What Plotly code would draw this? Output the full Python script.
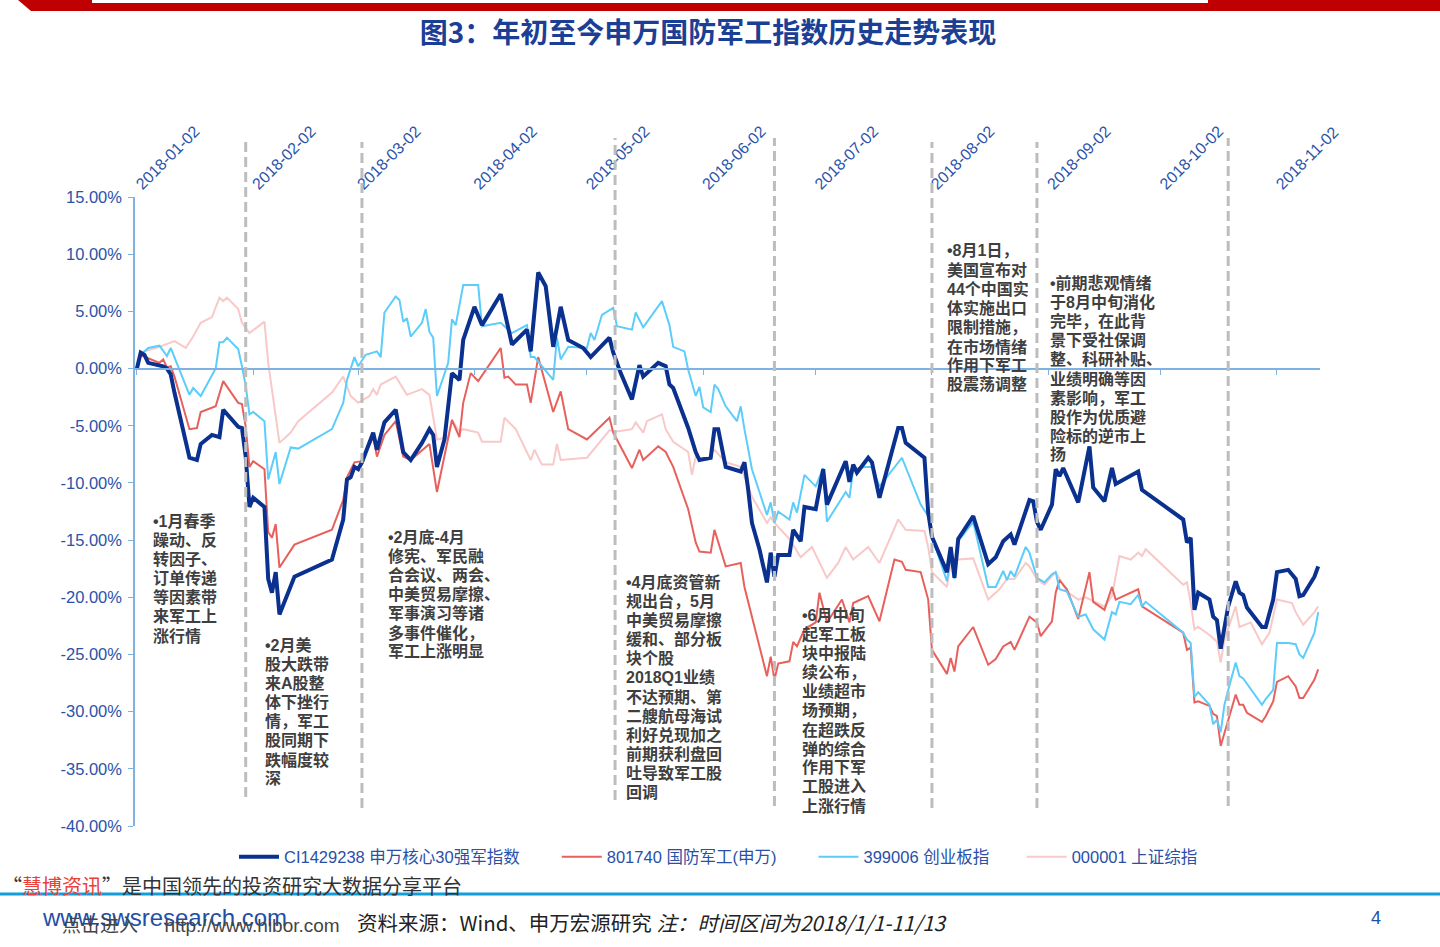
import plotly.graph_objects as go

# ---------------- data (percent change since 2018-01-02) ----------------
series_names = ["CI1429238 申万核心30强军指数", "801740 国防军工(申万)", "399006 创业板指", "000001 上证综指"]
month_ticks = ["2018-01-02", "2018-02-02", "2018-03-02", "2018-04-02", "2018-05-02", "2018-06-02",
               "2018-07-02", "2018-08-02", "2018-09-02", "2018-10-02", "2018-11-02"]
y_ticks = [15, 10, 5, 0, -5, -10, -15, -20, -25, -30, -35, -40]
y_tick_labels = ["15.00%", "10.00%", "5.00%", "0.00%", "-5.00%", "-10.00%", "-15.00%", "-20.00%",
                 "-25.00%", "-30.00%", "-35.00%", "-40.00%"]
event_dates = ["2018-01-01", "2018-01-31", "2018-03-03", "2018-05-09 12:00", "2018-06-21",
               "2018-08-02", "2018-08-30", "2018-10-20"]

ci_dates = ["2018-01-02","2018-01-03","2018-01-04","2018-01-05","2018-01-09","2018-01-10","2018-01-11","2018-01-12",
    "2018-01-16","2018-01-18","2018-01-19","2018-01-22","2018-01-24","2018-01-25","2018-01-29","2018-01-30","2018-01-31",
    "2018-02-01","2018-02-02","2018-02-05","2018-02-06","2018-02-07","2018-02-08","2018-02-09","2018-02-13","2018-02-23",
    "2018-02-26","2018-02-27","2018-02-28","2018-03-01","2018-03-02","2018-03-03","2018-03-06","2018-03-07","2018-03-09",
    "2018-03-12","2018-03-14","2018-03-16","2018-03-19","2018-03-21","2018-03-22","2018-03-23","2018-03-25","2018-03-27",
    "2018-03-29","2018-03-30","2018-04-02","2018-04-04","2018-04-09","2018-04-11","2018-04-12","2018-04-16","2018-04-17",
    "2018-04-19","2018-04-21","2018-04-23","2018-04-25","2018-04-27","2018-05-01","2018-05-03","2018-05-08","2018-05-09",
    "2018-05-11","2018-05-14","2018-05-16","2018-05-17","2018-05-21","2018-05-23","2018-05-24","2018-05-25","2018-05-29",
    "2018-05-31","2018-06-01","2018-06-04","2018-06-05","2018-06-06","2018-06-08","2018-06-12","2018-06-13","2018-06-14",
    "2018-06-15","2018-06-17","2018-06-19","2018-06-20","2018-06-21","2018-06-22","2018-06-25","2018-06-26","2018-06-28",
    "2018-06-29","2018-07-02","2018-07-04","2018-07-05","2018-07-10","2018-07-11","2018-07-12","2018-07-13","2018-07-16",
    "2018-07-17","2018-07-19","2018-07-24","2018-07-25","2018-07-26","2018-07-31","2018-08-01","2018-08-02","2018-08-06",
    "2018-08-07","2018-08-08","2018-08-09","2018-08-13","2018-08-17","2018-08-19","2018-08-21","2018-08-23","2018-08-24",
    "2018-08-28","2018-08-29","2018-08-30","2018-08-31","2018-09-03","2018-09-04","2018-09-05","2018-09-06","2018-09-10",
    "2018-09-13","2018-09-14","2018-09-17","2018-09-19","2018-09-20","2018-09-26","2018-09-27","2018-10-08","2018-10-09",
    "2018-10-10","2018-10-11","2018-10-12","2018-10-15","2018-10-16","2018-10-17","2018-10-18","2018-10-20","2018-10-22",
    "2018-10-23","2018-10-24","2018-10-25","2018-10-29","2018-10-30","2018-11-01","2018-11-02","2018-11-05","2018-11-07",
    "2018-11-08","2018-11-09","2018-11-12","2018-11-13"]
ci_values = [0.0, 1.4, 1.2, 0.5, 0.2, 0.0, -0.5, -2.1,
    -7.8, -8.0, -6.6, -5.8, -6.0, -3.6, -5.1, -5.2, -7.7,
    -12.1, -11.3, -12.1, -18.4, -19.6, -17.8, -21.5, -18.2, -16.7,
    -13.2, -9.7, -9.5, -8.6, -8.8, -8.2, -5.6, -7.1, -4.7,
    -3.6, -7.3, -8.0, -6.5, -5.3, -5.8, -8.6, -6.2, -0.4,
    -1.0, 2.5, 5.4, 3.8, 6.5, 3.6, 2.1, 3.4, 1.5,
    8.4, 7.2, 1.9, 5.4, 2.5, 1.8, 1.0, 2.7, 1.4,
    -0.4, -2.7, 0.3, -0.7, 0.5, 0.2, -1.4, -1.7, -5.2,
    -7.3, -8.0, -7.8, -5.3, -5.3, -8.6, -9.0, -8.2, -10.6,
    -13.5, -15.8, -18.7, -16.1, -18.2, -16.3, -16.3, -14.1, -15.1,
    -12.1, -12.3, -8.8, -11.9, -8.1, -9.9, -8.4, -9.1, -7.8,
    -8.2, -11.3, -5.2, -5.2, -6.5, -7.8, -12.6, -14.7, -17.8,
    -15.6, -18.3, -14.9, -12.9, -17.1, -16.5, -15.1, -14.5, -15.4,
    -11.5, -11.6, -13.4, -14.1, -11.9, -8.8, -9.4, -8.7, -11.7,
    -6.8, -10.4, -11.6, -8.7, -10.1, -9.0, -10.6, -13.2, -15.2,
    -14.8, -21.1, -19.6, -20.2, -21.7, -22.0, -24.5, -20.8, -18.6,
    -19.6, -19.8, -20.9, -22.6, -22.6, -20.2, -17.8, -17.6, -18.4,
    -19.9, -19.8, -18.2, -17.3]

sw_dates = ["2018-01-02","2018-01-03","2018-01-05","2018-01-08","2018-01-09","2018-01-10","2018-01-11","2018-01-12",
    "2018-01-16","2018-01-18","2018-01-19","2018-01-23","2018-01-25","2018-01-29","2018-01-30","2018-01-31","2018-02-01",
    "2018-02-02","2018-02-05","2018-02-06","2018-02-07","2018-02-08","2018-02-09","2018-02-13","2018-02-23","2018-02-26",
    "2018-02-27","2018-03-01","2018-03-03","2018-03-06","2018-03-07","2018-03-09","2018-03-12","2018-03-14","2018-03-16",
    "2018-03-21","2018-03-23","2018-03-27","2018-03-29","2018-03-30","2018-04-01","2018-04-03","2018-04-09","2018-04-10",
    "2018-04-11","2018-04-13","2018-04-16","2018-04-17","2018-04-19","2018-04-23","2018-04-25","2018-04-27","2018-05-02",
    "2018-05-08","2018-05-09","2018-05-14","2018-05-16","2018-05-17","2018-05-21","2018-05-23","2018-05-25","2018-05-29",
    "2018-05-31","2018-06-01","2018-06-04","2018-06-05","2018-06-08","2018-06-12","2018-06-13","2018-06-19","2018-06-20",
    "2018-06-21","2018-06-22","2018-06-25","2018-06-26","2018-06-27","2018-06-29","2018-07-02","2018-07-03","2018-07-05",
    "2018-07-09","2018-07-11","2018-07-12","2018-07-16","2018-07-19","2018-07-23","2018-07-25","2018-07-26","2018-07-30",
    "2018-08-01","2018-08-02","2018-08-06","2018-08-07","2018-08-08","2018-08-09","2018-08-13","2018-08-17","2018-08-19",
    "2018-08-21","2018-08-23","2018-08-24","2018-08-28","2018-08-30","2018-08-31","2018-09-03","2018-09-04","2018-09-05",
    "2018-09-07","2018-09-10","2018-09-13","2018-09-14","2018-09-17","2018-09-19","2018-09-20","2018-09-26","2018-09-27",
    "2018-10-08","2018-10-09","2018-10-10","2018-10-11","2018-10-12","2018-10-15","2018-10-16","2018-10-17","2018-10-18",
    "2018-10-20","2018-10-22","2018-10-23","2018-10-24","2018-10-25","2018-10-29","2018-10-30","2018-11-01","2018-11-02",
    "2018-11-05","2018-11-07","2018-11-08","2018-11-09","2018-11-12","2018-11-13"]
sw_values = [0.0, 1.2, 0.9, 0.5, 0.8, 0.1, 0.2, -0.7,
    -5.3, -5.2, -3.8, -3.3, -1.1, -3.0, -3.1, -5.1, -8.6,
    -8.1, -8.8, -14.3, -14.8, -13.6, -17.4, -15.4, -14.1, -11.5,
    -9.5, -8.2, -8.1, -6.0, -7.7, -5.8, -4.6, -7.7, -8.0,
    -6.6, -10.8, -4.5, -6.0, -3.0, -0.4, -1.1, 1.8, -0.8,
    -0.7, -1.4, -1.4, -3.0, 1.0, -3.8, -2.0, -5.3, -6.2,
    -4.3, -5.6, -8.7, -7.1, -8.0, -6.8, -7.3, -8.6, -12.3,
    -15.2, -16.0, -16.1, -14.1, -17.3, -17.0, -19.1, -26.9, -25.2,
    -27.2, -25.8, -25.6, -23.9, -24.3, -22.8, -22.2, -19.6, -22.2,
    -20.2, -22.2, -20.5, -19.9, -22.1, -16.7, -16.9, -17.6, -17.8,
    -20.2, -24.6, -26.7, -25.3, -26.5, -24.3, -22.6, -25.9, -25.4,
    -24.3, -23.9, -24.6, -21.7, -22.2, -23.4, -22.1, -19.6, -18.5,
    -19.3, -21.9, -17.8, -20.4, -21.1, -19.1, -20.2, -19.3, -20.8,
    -23.1, -24.6, -24.4, -29.2, -29.1, -29.5, -30.2, -30.4, -33.0,
    -30.7, -28.5, -29.4, -29.4, -30.1, -30.9, -30.4, -29.1, -27.4,
    -26.9, -27.8, -28.8, -28.8, -27.2, -26.3]

cyb_dates = ["2018-01-02","2018-01-03","2018-01-05","2018-01-08","2018-01-10","2018-01-11","2018-01-16","2018-01-17",
    "2018-01-19","2018-01-23","2018-01-24","2018-01-25","2018-01-26","2018-01-29","2018-01-30","2018-01-31","2018-02-01",
    "2018-02-02","2018-02-05","2018-02-06","2018-02-08","2018-02-09","2018-02-12","2018-02-14","2018-02-23","2018-02-26",
    "2018-02-27","2018-03-01","2018-03-02","2018-03-04","2018-03-07","2018-03-08","2018-03-09","2018-03-12","2018-03-13",
    "2018-03-14","2018-03-15","2018-03-16","2018-03-19","2018-03-20","2018-03-21","2018-03-22","2018-03-23","2018-03-26",
    "2018-03-27","2018-03-28","2018-03-30","2018-04-03","2018-04-04","2018-04-09","2018-04-11","2018-04-12","2018-04-16",
    "2018-04-17","2018-04-18","2018-04-23","2018-04-24","2018-04-25","2018-04-27","2018-05-02","2018-05-03","2018-05-04",
    "2018-05-06","2018-05-09","2018-05-10","2018-05-14","2018-05-15","2018-05-17","2018-05-22","2018-05-24","2018-05-25",
    "2018-05-28","2018-05-29","2018-05-31","2018-06-01","2018-06-02","2018-06-04","2018-06-05","2018-06-06","2018-06-08",
    "2018-06-11","2018-06-12","2018-06-13","2018-06-15","2018-06-17","2018-06-19","2018-06-20","2018-06-21","2018-06-22",
    "2018-06-25","2018-06-26","2018-06-27","2018-06-29","2018-07-02","2018-07-04","2018-07-05","2018-07-10","2018-07-11",
    "2018-07-12","2018-07-15","2018-07-17","2018-07-19","2018-07-25","2018-07-27","2018-07-30","2018-08-01","2018-08-02",
    "2018-08-06","2018-08-07","2018-08-08","2018-08-09","2018-08-13","2018-08-17","2018-08-19","2018-08-21","2018-08-22",
    "2018-08-23","2018-08-24","2018-08-27","2018-08-28","2018-08-30","2018-09-01","2018-09-03","2018-09-04","2018-09-05",
    "2018-09-07","2018-09-09","2018-09-10","2018-09-12","2018-09-14","2018-09-17","2018-09-19","2018-09-20","2018-09-21",
    "2018-09-24","2018-09-26","2018-09-27","2018-09-28","2018-10-08","2018-10-09","2018-10-10","2018-10-11","2018-10-12",
    "2018-10-15","2018-10-16","2018-10-17","2018-10-18","2018-10-19","2018-10-20","2018-10-22","2018-10-23","2018-10-24",
    "2018-10-29","2018-10-30","2018-11-01","2018-11-02","2018-11-05","2018-11-07","2018-11-08","2018-11-09","2018-11-12",
    "2018-11-13"]
cyb_values = [0.0, 1.2, 1.8, 2.0, 1.1, 1.8, -2.3, -1.7,
    -2.4, 0.0, 2.3, 2.3, 2.7, 1.7, 0.2, -1.5, -4.0,
    -3.8, -4.6, -9.7, -7.3, -10.1, -6.9, -7.0, -5.3, -3.0,
    -1.0, 1.0, 0.2, 1.2, 1.5, 1.0, 4.9, 6.3, 6.0,
    4.1, 4.4, 2.8, 4.0, 5.2, 3.2, 2.7, -2.4, 0.5,
    4.3, 3.8, 7.3, 7.3, 3.7, 4.0, 3.4, 3.1, 3.8,
    1.0, 1.0, -1.0, 2.7, 0.8, 1.9, 1.8, 3.1, 2.5,
    4.7, 5.3, 3.7, 3.4, 4.9, 3.6, 5.9, 3.8, 1.9,
    1.5, -0.1, -2.4, -1.6, -3.4, -3.8, -1.4, -1.8, -3.3,
    -4.6, -3.3, -5.3, -8.8, -10.8, -12.8, -11.7, -13.5, -12.5,
    -13.2, -11.7, -12.6, -9.3, -10.3, -8.7, -13.4, -10.8, -11.3,
    -8.8, -8.6, -8.6, -10.3, -7.8, -9.4, -11.9, -12.9, -14.7,
    -18.6, -16.4, -18.4, -15.1, -13.4, -19.1, -19.1, -17.7, -18.5,
    -17.7, -18.2, -15.6, -16.1, -18.3, -18.7, -18.0, -17.8, -19.3,
    -19.5, -20.9, -21.7, -21.5, -22.8, -23.7, -21.3, -21.5, -20.4,
    -20.6, -19.8, -20.8, -20.4, -23.1, -23.7, -24.0, -28.7, -28.3,
    -29.4, -31.1, -30.7, -31.8, -29.4, -28.1, -25.7, -26.9, -27.1,
    -29.4, -28.9, -28.1, -24.0, -24.0, -24.1, -25.0, -25.3, -23.1,
    -21.3]

sh_dates = ["2018-01-02","2018-01-03","2018-01-08","2018-01-12","2018-01-15","2018-01-17","2018-01-19","2018-01-22",
    "2018-01-24","2018-01-25","2018-01-26","2018-01-29","2018-01-30","2018-02-01","2018-02-05","2018-02-06","2018-02-09",
    "2018-02-12","2018-02-14","2018-02-23","2018-02-26","2018-02-28","2018-03-02","2018-03-05","2018-03-06","2018-03-07",
    "2018-03-08","2018-03-12","2018-03-15","2018-03-19","2018-03-21","2018-03-23","2018-03-26","2018-03-27","2018-03-29",
    "2018-03-30","2018-04-03","2018-04-04","2018-04-09","2018-04-10","2018-04-13","2018-04-17","2018-04-18","2018-04-20",
    "2018-04-23","2018-04-24","2018-04-25","2018-05-02","2018-05-08","2018-05-10","2018-05-14","2018-05-15","2018-05-17",
    "2018-05-18","2018-05-22","2018-05-23","2018-05-25","2018-05-29","2018-05-30","2018-05-31","2018-06-03","2018-06-05",
    "2018-06-08","2018-06-12","2018-06-15","2018-06-19","2018-06-20","2018-06-21","2018-06-25","2018-06-28","2018-07-01",
    "2018-07-05","2018-07-08","2018-07-10","2018-07-12","2018-07-16","2018-07-19","2018-07-24","2018-07-26","2018-07-31",
    "2018-08-01","2018-08-02","2018-08-06","2018-08-07","2018-08-08","2018-08-09","2018-08-13","2018-08-17","2018-08-20",
    "2018-08-22","2018-08-24","2018-08-27","2018-08-28","2018-08-30","2018-09-01","2018-09-04","2018-09-07","2018-09-10",
    "2018-09-12","2018-09-17","2018-09-19","2018-09-21","2018-09-24","2018-09-26","2018-09-27","2018-09-28","2018-10-08",
    "2018-10-09","2018-10-10","2018-10-11","2018-10-12","2018-10-15","2018-10-17","2018-10-18","2018-10-19","2018-10-22",
    "2018-10-23","2018-10-26","2018-10-29","2018-10-31","2018-11-02","2018-11-06","2018-11-07","2018-11-09","2018-11-12",
    "2018-11-13"]
sh_values = [0.0, 1.4, 1.9, 2.4, 1.8, 2.8, 4.0, 4.5,
    6.2, 5.9, 6.2, 5.2, 4.0, 3.1, 4.1, 0.5, -6.5,
    -5.6, -4.6, -2.1, -0.7, -2.4, -3.0, -2.4, -1.8, -2.3,
    -1.4, -0.7, -2.3, -1.8, -2.3, -6.2, -6.0, -4.5, -5.5,
    -5.3, -5.6, -6.4, -6.4, -4.3, -5.3, -8.0, -7.1, -8.4,
    -8.4, -6.6, -8.0, -7.8, -5.4, -5.5, -5.3, -4.7, -5.6,
    -4.6, -4.0, -5.3, -6.4, -7.3, -9.3, -7.7, -8.0, -7.1,
    -8.2, -8.6, -11.2, -13.5, -13.0, -13.5, -14.9, -16.5, -15.6,
    -18.3, -17.0, -15.6, -16.7, -15.6, -17.0, -13.2, -14.1, -14.2,
    -15.6, -17.8, -19.1, -17.0, -16.9, -16.7, -16.6, -20.2, -19.3,
    -18.4, -18.4, -17.0, -17.3, -18.4, -18.9, -17.8, -19.5, -20.2,
    -20.0, -20.8, -19.9, -16.4, -16.7, -16.1, -16.4, -15.8, -18.9,
    -18.7, -20.5, -22.8, -22.6, -23.3, -23.9, -25.7, -23.7, -20.8,
    -22.6, -22.2, -24.1, -23.1, -20.2, -20.5, -21.3, -22.4, -21.3,
    -20.8]

for d, v in [(ci_dates, ci_values), (sw_dates, sw_values), (cyb_dates, cyb_values), (sh_dates, sh_values)]:
    assert len(d) == len(v), (len(d), len(v))

# ---------------- layout helpers ----------------
W, H = 1440, 947
ML, MR, MT, MB = 135, 120, 197, 121
PW, PH = W - ML - MR, H - MT - MB


def px(X):
    return (X - ML) / PW


def py(Y):
    return (H - MB - Y) / PH


LATIN = "Liberation Sans, Arial, Noto Sans CJK SC, sans-serif"
CJK = "Noto Sans CJK SC, sans-serif"
AXIS_BLUE = "#2a52aa"
LINE_BLUE = "#7fb1e3"
NB = "\u00a0"

fig = go.Figure()
# drawn bottom -> top
fig.add_trace(go.Scatter(x=sh_dates, y=sh_values, name=series_names[3], mode="lines",
                         line=dict(color="#f9c8c8", width=2), legendrank=4))
fig.add_trace(go.Scatter(x=sw_dates, y=sw_values, name=series_names[1] + NB * 7, mode="lines",
                         line=dict(color="#e8605c", width=2), legendrank=2))
fig.add_trace(go.Scatter(x=cyb_dates, y=cyb_values, name=series_names[2] + NB * 6, mode="lines",
                         line=dict(color="#5ccdfb", width=2), legendrank=3))
fig.add_trace(go.Scatter(x=ci_dates, y=ci_values, name=series_names[0] + NB * 7, mode="lines",
                         line=dict(color="#0a318f", width=4), legendrank=1))
# carrier for the zero-line axis
fig.add_trace(go.Scatter(x=[], y=[], xaxis="x2", showlegend=False, hoverinfo="skip"))

x_range = ["2018-01-01 11:30", "2018-11-13 11:30"]

shapes = []
# event separator lines (top / bottom pixel extents)
event_extent = [(142, 800), (142, 797), (142, 808), (138, 800), (138, 806), (142, 808), (142, 808), (138, 806)]
for d, (top, bot) in zip(event_dates, event_extent):
    shapes.append(dict(type="line", xref="x", yref="paper", x0=d, x1=d, y0=py(bot), y1=py(top),
                       line=dict(color="#bdbdbd", width=3, dash="10px,5px"), layer="above"))
# top red banner
shapes.append(dict(type="path", xref="paper", yref="paper",
                   path=f"M {px(18)},{py(0)} L {px(1440)},{py(0)} L {px(1440)},{py(11)} L {px(31)},{py(11)} Z",
                   fillcolor="#c00000", line=dict(width=0)))
shapes.append(dict(type="rect", xref="paper", yref="paper", x0=px(92), x1=px(1208), y0=py(3), y1=py(-2),
                   fillcolor="white", line=dict(width=0)))
# footer separator
shapes.append(dict(type="line", xref="paper", yref="paper", x0=px(0), x1=px(1440), y0=py(894), y1=py(894),
                   line=dict(color="#119fdc", width=3)))

annotations = []


def note(X, Y, text, size=15, color="#3f3f3f", family=CJK, xanchor="left", yanchor="top", **kw):
    annotations.append(dict(xref="paper", yref="paper", x=px(X), y=py(Y), text=text, showarrow=False,
                            xanchor=xanchor, yanchor=yanchor, align="left",
                            font=dict(size=size, color=color, family=family), **kw))


event_notes = [
    (151, 521, ["•1月春季", "躁动、反", "转因子、", "订单传递", "等因素带", "来军工上", "涨行情"]),
    (263, 645, ["•2月美", "股大跌带", "来A股整", "体下挫行", "情，军工", "股同期下", "跌幅度较", "深"]),
    (386, 537, ["•2月底-4月", "修宪、军民融", "合会议、两会、", "中美贸易摩擦、", "军事演习等诸",
                "多事件催化，", "军工上涨明显"]),
    (624, 582, ["•4月底资管新", "规出台，5月", "中美贸易摩擦", "缓和、部分板", "块个股", "2018Q1业绩",
                "不达预期、第", "二艘航母海试", "利好兑现加之", "前期获利盘回", "吐导致军工股", "回调"]),
    (800, 615, ["•6月中旬", "起军工板", "块中报陆", "续公布，", "业绩超市", "场预期，", "在超跌反",
                "弹的综合", "作用下军", "工股进入", "上涨行情"]),
    (945, 251, ["•8月1日，", "美国宣布对", "44个中国实", "体实施出口", "限制措施，", "在市场情绪",
                "作用下军工", "股震荡调整"]),
    (1048, 283, ["•前期悲观情绪", "于8月中旬消化", "完毕，在此背", "景下受社保调", "整、科研补贴、",
                 "业绩明确等因", "素影响，军工", "股作为优质避", "险标的逆市上", "扬"]),
]
LINE_STEP = 19.1
for X, Y, lines in event_notes:
    for i, t in enumerate(lines):
        note(X, Y + i * LINE_STEP, "<b>" + t + "</b>", size=16, color="#3f3f3f", family=LATIN,
             yanchor="middle")

# footer texts
note(0, 885, "“<span style='color:#e8413c'>慧博资讯</span>”是中国领先的投资研究大数据分享平台",
     size=20, color="#333333", family=CJK, yanchor="middle")
note(40, 917, "www.swsresearch.com", size=24, color="#1f4fa8", family=LATIN, yanchor="middle")
note(60, 925, "点击进入&nbsp;&nbsp;&nbsp;&nbsp;&nbsp;http://www.hibor.com", size=19, color="#444444",
     family=LATIN, yanchor="middle")
note(355, 922, "资料来源：Wind、申万宏源研究 <i>注：时间区间为2018/1/1-11/13</i>", size=20.5,
     color="#222222", yanchor="middle", bgcolor="white")
note(1369, 918, "4", size=18, color="#1f4fa8", family=LATIN, yanchor="middle")

fig.update_layout(
    width=W, height=H,
    margin=dict(l=ML, r=MR, t=MT, b=MB, autoexpand=False),
    paper_bgcolor="white", plot_bgcolor="white",
    title=dict(text="<b>图3：年初至今申万国防军工指数历史走势表现</b>", x=708 / W, xanchor="center",
               y=1 - 33 / H, yanchor="middle", xref="container", yref="container",
               font=dict(family=CJK, size=28, color="#1c3f96")),
    xaxis=dict(type="date", range=x_range, side="top", tickvals=month_ticks, ticktext=month_ticks,
               tickangle=-45, tickfont=dict(family=LATIN, size=16, color=AXIS_BLUE),
               showgrid=False, zeroline=False, showline=False, ticks=""),
    xaxis2=dict(type="date", matches="x", overlaying="x", anchor="free", position=py(369), side="bottom",
                tickvals=month_ticks, showticklabels=False, ticks="outside", ticklen=5, tickcolor=LINE_BLUE,
                showline=True, linecolor=LINE_BLUE, linewidth=1.5, showgrid=False, zeroline=False),
    yaxis=dict(range=[-40, 15], tickvals=y_ticks, ticktext=y_tick_labels,
               tickfont=dict(family=LATIN, size=16.5, color=AXIS_BLUE), ticklabelstandoff=3,
               showgrid=False, zeroline=False, showline=True, linecolor=LINE_BLUE, linewidth=1.5,
               ticks="outside", ticklen=5, tickcolor=LINE_BLUE),
    legend=dict(orientation="h", x=px(234), xanchor="left", y=py(857), yanchor="middle",
                font=dict(family=LATIN, size=16.5, color="#2a4fa6"), bgcolor="rgba(0,0,0,0)",
                itemwidth=40, tracegroupgap=0),
    shapes=shapes,
    annotations=annotations,
    showlegend=True,
)

fig.write_html("out.html", config={"displayModeBar": False},
               post_script="document.body.style.margin='0';document.body.style.padding='0';")
